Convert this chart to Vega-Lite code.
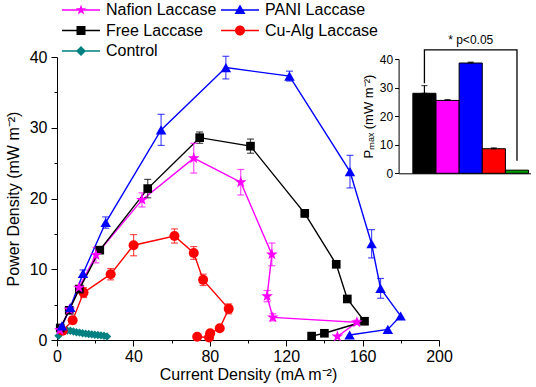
{
  "$schema": "https://vega.github.io/schema/vega-lite/v6.json",
  "width": 382,
  "height": 283,
  "autosize": {"type": "none"},
  "padding": {"left": 57, "top": 57, "right": 97, "bottom": 47},
  "config": {
    "view": {"stroke": null},
    "font": "Liberation Sans",
    "axis": {"domainColor": "black", "tickColor": "black", "labelColor": "black", "titleColor": "black", "grid": false, "titleFontWeight": "normal", "labelFont": "Liberation Sans", "titleFont": "Liberation Sans"}
  },
  "datasets": {
    "curves": [
      {"s": "Nafion Laccase", "i": 1, "x": 1.5, "y": 1.4, "err": 0},
      {"s": "Nafion Laccase", "i": 2, "x": 6.5, "y": 4.3, "err": 0},
      {"s": "Nafion Laccase", "i": 3, "x": 11.5, "y": 7.4, "err": 0},
      {"s": "Nafion Laccase", "i": 4, "x": 20.4, "y": 12.0, "err": 1.1},
      {"s": "Nafion Laccase", "i": 5, "x": 44.5, "y": 19.8, "err": 1.0},
      {"s": "Nafion Laccase", "i": 6, "x": 71.6, "y": 25.7, "err": 2.1},
      {"s": "Nafion Laccase", "i": 7, "x": 96.2, "y": 22.3, "err": 1.8},
      {"s": "Nafion Laccase", "i": 8, "x": 112.5, "y": 12.1, "err": 1.6},
      {"s": "Nafion Laccase", "i": 9, "x": 110.0, "y": 6.2, "err": 0.8},
      {"s": "Nafion Laccase", "i": 10, "x": 113.0, "y": 3.2, "err": 0.5},
      {"s": "Nafion Laccase", "i": 11, "x": 157.0, "y": 2.5, "err": 0.3},
      {"s": "Nafion Laccase", "i": 12, "x": 146.8, "y": 0.5, "err": 0},
      {"s": "PANI Laccase", "i": 1, "x": 2.6, "y": 2.0, "err": 0},
      {"s": "PANI Laccase", "i": 2, "x": 7.0, "y": 4.6, "err": 0},
      {"s": "PANI Laccase", "i": 3, "x": 13.6, "y": 9.4, "err": 0.5},
      {"s": "PANI Laccase", "i": 4, "x": 25.5, "y": 16.6, "err": 0.8},
      {"s": "PANI Laccase", "i": 5, "x": 54.5, "y": 29.7, "err": 2.2},
      {"s": "PANI Laccase", "i": 6, "x": 88.4, "y": 38.5, "err": 1.6},
      {"s": "PANI Laccase", "i": 7, "x": 121.7, "y": 37.3, "err": 0.7},
      {"s": "PANI Laccase", "i": 8, "x": 153.4, "y": 23.8, "err": 2.3},
      {"s": "PANI Laccase", "i": 9, "x": 164.7, "y": 13.6, "err": 2.0},
      {"s": "PANI Laccase", "i": 10, "x": 169.4, "y": 7.3, "err": 1.4},
      {"s": "PANI Laccase", "i": 11, "x": 179.9, "y": 3.4, "err": 0},
      {"s": "PANI Laccase", "i": 12, "x": 173.2, "y": 1.5, "err": 0},
      {"s": "PANI Laccase", "i": 13, "x": 153.2, "y": 0.7, "err": 0},
      {"s": "Free Laccase", "i": 1, "x": 1.7, "y": 1.7, "err": 0},
      {"s": "Free Laccase", "i": 2, "x": 6.4, "y": 4.2, "err": 0},
      {"s": "Free Laccase", "i": 3, "x": 11.7, "y": 7.2, "err": 0},
      {"s": "Free Laccase", "i": 4, "x": 22.4, "y": 12.7, "err": 0.3},
      {"s": "Free Laccase", "i": 5, "x": 47.5, "y": 21.4, "err": 1.3},
      {"s": "Free Laccase", "i": 6, "x": 74.7, "y": 28.6, "err": 0.8},
      {"s": "Free Laccase", "i": 7, "x": 101.3, "y": 27.4, "err": 1.0},
      {"s": "Free Laccase", "i": 8, "x": 129.7, "y": 17.9, "err": 0.5},
      {"s": "Free Laccase", "i": 9, "x": 146.2, "y": 10.7, "err": 0},
      {"s": "Free Laccase", "i": 10, "x": 152.0, "y": 5.8, "err": 0},
      {"s": "Free Laccase", "i": 11, "x": 161.0, "y": 2.65, "err": 0},
      {"s": "Free Laccase", "i": 12, "x": 140.0, "y": 0.95, "err": 0},
      {"s": "Free Laccase", "i": 13, "x": 133.3, "y": 0.55, "err": 0},
      {"s": "Cu-Alg Laccase", "i": 1, "x": 3.0, "y": 1.3, "err": 0},
      {"s": "Cu-Alg Laccase", "i": 2, "x": 8.2, "y": 2.8, "err": 0.5},
      {"s": "Cu-Alg Laccase", "i": 3, "x": 13.9, "y": 6.7, "err": 0.7},
      {"s": "Cu-Alg Laccase", "i": 4, "x": 28.1, "y": 9.3, "err": 0.8},
      {"s": "Cu-Alg Laccase", "i": 5, "x": 40.1, "y": 13.4, "err": 1.5},
      {"s": "Cu-Alg Laccase", "i": 6, "x": 61.5, "y": 14.7, "err": 1.0},
      {"s": "Cu-Alg Laccase", "i": 7, "x": 71.6, "y": 12.3, "err": 0.9},
      {"s": "Cu-Alg Laccase", "i": 8, "x": 76.5, "y": 8.5, "err": 0.8},
      {"s": "Cu-Alg Laccase", "i": 9, "x": 89.9, "y": 4.4, "err": 0.7},
      {"s": "Cu-Alg Laccase", "i": 10, "x": 85.2, "y": 1.65, "err": 0},
      {"s": "Cu-Alg Laccase", "i": 11, "x": 80.2, "y": 0.95, "err": 0},
      {"s": "Cu-Alg Laccase", "i": 12, "x": 79.6, "y": 0.35, "err": 0},
      {"s": "Cu-Alg Laccase", "i": 13, "x": 73.4, "y": 0.45, "err": 0},
      {"s": "Control", "i": 1, "x": 0.8, "y": 0.6, "err": 0},
      {"s": "Control", "i": 2, "x": 2.2, "y": 1.3, "err": 0},
      {"s": "Control", "i": 3, "x": 3.8, "y": 1.4, "err": 0},
      {"s": "Control", "i": 4, "x": 5.4, "y": 1.35, "err": 0},
      {"s": "Control", "i": 5, "x": 7.0, "y": 1.3, "err": 0},
      {"s": "Control", "i": 6, "x": 8.6, "y": 1.2, "err": 0},
      {"s": "Control", "i": 7, "x": 10.2, "y": 1.1, "err": 0},
      {"s": "Control", "i": 8, "x": 11.8, "y": 1.05, "err": 0},
      {"s": "Control", "i": 9, "x": 13.4, "y": 0.95, "err": 0},
      {"s": "Control", "i": 10, "x": 15.0, "y": 0.9, "err": 0},
      {"s": "Control", "i": 11, "x": 16.6, "y": 0.85, "err": 0},
      {"s": "Control", "i": 12, "x": 18.2, "y": 0.8, "err": 0},
      {"s": "Control", "i": 13, "x": 19.8, "y": 0.75, "err": 0},
      {"s": "Control", "i": 14, "x": 21.4, "y": 0.7, "err": 0},
      {"s": "Control", "i": 15, "x": 23.0, "y": 0.65, "err": 0},
      {"s": "Control", "i": 16, "x": 24.6, "y": 0.6, "err": 0},
      {"s": "Control", "i": 17, "x": 26.2, "y": 0.5, "err": 0}
    ],
    "bars": [
      {"cat": "Free Laccase", "val": 28.0, "hi": 30.7},
      {"cat": "Nafion Laccase", "val": 25.5, "hi": 25.8},
      {"cat": "PANI Laccase", "val": 38.6, "hi": 38.9},
      {"cat": "Cu-Alg Laccase", "val": 8.6, "hi": 8.9},
      {"cat": "Control", "val": 1.1, "hi": 1.1}
    ],
    "bracket": [
      {"cat": "Free Laccase", "v": 31.5, "k": 1},
      {"cat": "Free Laccase", "v": 43.2, "k": 2},
      {"cat": "Control", "v": 43.2, "k": 3},
      {"cat": "Control", "v": 4.4, "k": 4}
    ],
    "note": [
      {"cat": "PANI Laccase", "v": 44.0, "t": "* p<0.05"}
    ]
  },
  "layer": [
    {
      "data": {"name": "curves"},
      "encoding": {
        "x": {"field": "x", "type": "quantitative", "scale": {"domain": [0, 200], "nice": false},
          "axis": {"values": [0, 20, 40, 60, 80, 100, 120, 140, 160, 180, 200], "labelExpr": "datum.value % 40 === 0 ? datum.label : ''",
            "tickSize": {"condition": {"test": "datum.value % 40 === 0", "value": 6}, "value": 3},
            "labelFontSize": 16, "labelPadding": 2, "titleFontSize": 16, "titlePadding": 2, "labelFlush": false},
          "title": "Current Density (mA m⁻²)"},
        "y": {"field": "y", "type": "quantitative", "scale": {"domain": [0, 40], "nice": false},
          "axis": {"values": [0, 5, 10, 15, 20, 25, 30, 35, 40], "labelExpr": "datum.value % 10 === 0 ? datum.label : ''",
            "tickSize": {"condition": {"test": "datum.value % 10 === 0", "value": 6}, "value": 3},
            "labelFontSize": 16, "labelPadding": 4, "titleFontSize": 16, "titlePadding": 8, "labelFlush": false},
          "title": "Power Density (mW m⁻²)"},
        "color": {"field": "s", "type": "nominal",
          "scale": {"domain": ["Nafion Laccase", "PANI Laccase", "Free Laccase", "Cu-Alg Laccase", "Control"], "range": ["#FF00FF", "#0000FF", "#000000", "#FF0000", "#008080"]},
          "legend": {"orient": "none", "legendX": 5, "legendY": -57, "columns": 2, "direction": "horizontal", "title": null, "padding": 0, "offset": 0,
            "labelFontSize": 16, "labelFont": "Liberation Sans", "labelColor": "black", "symbolSize": 400, "labelOffset": 24, "columnPadding": 4, "rowPadding": 2.5, "symbolStrokeWidth": 0,
            "encode": {"symbols": {"update": {
              "shape": {"signal": "datum.value === 'Nafion Laccase' ? 'M-1,-0.08H2.8V0.08H-1ZM0.9,-0.55L1.029,-0.178L1.423,-0.17L1.109,0.068L1.223,0.445L0.9,0.22L0.577,0.445L0.691,0.068L0.377,-0.17L0.771,-0.178Z' : datum.value === 'PANI Laccase' ? 'M-1,-0.08H2.8V0.08H-1ZM0.9,-0.55L1.45,0.4H0.35Z' : datum.value === 'Free Laccase' ? 'M-1,-0.08H2.8V0.08H-1ZM0.45,-0.45H1.35V0.45H0.45Z' : datum.value === 'Cu-Alg Laccase' ? 'M-1,-0.08H2.8V0.08H-1ZM1.4,0A0.5,0.5,0,1,1,0.4,0A0.5,0.5,0,1,1,1.4,0Z' : 'M-1,-0.08H2.8V0.08H-1ZM0.9,-0.5L1.4,0L0.9,0.5L0.4,0Z'"},
              "fill": {"scale": "color", "field": "value"},
              "stroke": {"value": "transparent"},
              "opacity": {"value": 1},
              "size": {"value": 400}
            }}}}
        }
      },
      "layer": [
        {
          "mark": {"type": "line", "strokeWidth": 1.4},
          "encoding": {"order": {"field": "i", "type": "quantitative"}}
        },
        {
          "transform": [{"filter": "datum.err > 0"}],
          "mark": {"type": "errorbar", "ticks": {"size": 7}, "thickness": 1.2, "opacity": 0.7},
          "encoding": {"yError": {"field": "err"}}
        },
        {
          "transform": [{"filter": "datum.s === 'Control'"}],
          "mark": {"type": "point", "filled": true, "opacity": 1, "shape": "diamond", "size": 70}
        },
        {
          "transform": [{"filter": "datum.s === 'Cu-Alg Laccase'"}],
          "mark": {"type": "point", "filled": true, "opacity": 1, "shape": "circle", "size": 100}
        },
        {
          "transform": [{"filter": "datum.s === 'Free Laccase'"}],
          "mark": {"type": "point", "filled": true, "opacity": 1, "shape": "square", "size": 75}
        },
        {
          "transform": [{"filter": "datum.s === 'Nafion Laccase'"}],
          "mark": {"type": "point", "filled": true, "opacity": 1, "size": 150, "shape": "M0,-1L0.235,-0.324L0.951,-0.309L0.38,0.124L0.588,0.809L0,0.4L-0.588,0.809L-0.38,0.124L-0.951,-0.309L-0.235,-0.324Z"}
        },
        {
          "transform": [{"filter": "datum.s === 'PANI Laccase'"}],
          "mark": {"type": "point", "filled": true, "opacity": 1, "shape": "triangle-up", "size": 110}
        }
      ]
    },
    {
      "layer": [
        {
          "data": {"name": "bars"},
          "mark": {"type": "bar", "stroke": "black", "strokeWidth": 1},
          "encoding": {
            "x": {"field": "cat", "type": "nominal", "sort": null,
              "scale": {"domain": ["Free Laccase", "Nafion Laccase", "PANI Laccase", "Cu-Alg Laccase", "Control"], "range": [341.6, 473.5], "paddingInner": 0, "paddingOuter": 0.35, "align": 0.88},
              "axis": {"orient": "bottom", "offset": -166.7, "labels": false, "ticks": false, "title": null, "domain": true}},
            "y": {"field": "val", "type": "quantitative", "scale": {"domain": [0, 40], "nice": false, "range": [116.3, 2]},
              "title": "Pₘₐₓ (mW m⁻²)",
              "axis": {"orient": "left", "offset": -341.6, "values": [0, 5, 10, 15, 20, 25, 30, 35, 40], "labelExpr": "datum.value % 10 === 0 ? datum.label : ''",
                "tickSize": {"condition": {"test": "datum.value % 10 === 0", "value": 4}, "value": 2},
                "labelFontSize": 12, "labelPadding": 2, "titleFontSize": 13, "titlePadding": 4, "labelFlush": false}},
            "fill": {"field": "cat", "type": "nominal", "scale": {"domain": ["Free Laccase", "Nafion Laccase", "PANI Laccase", "Cu-Alg Laccase", "Control"], "range": ["#000000", "#FF00FF", "#0000FF", "#FF0000", "#009900"]}, "legend": null}
          }
        },
        {
          "data": {"name": "bars"},
          "transform": [{"filter": "datum.hi > datum.val"}],
          "mark": {"type": "errorbar", "ticks": {"size": 6}, "thickness": 1.2, "color": "black"},
          "encoding": {
            "x": {"field": "cat", "type": "nominal", "title": null},
            "y": {"field": "val", "type": "quantitative", "title": "Pₘₐₓ (mW m⁻²)"},
            "y2": {"field": "hi"}
          }
        },
        {
          "data": {"name": "bracket"},
          "mark": {"type": "line", "color": "black", "strokeWidth": 1.3},
          "encoding": {
            "x": {"field": "cat", "type": "nominal", "title": null},
            "y": {"field": "v", "type": "quantitative", "title": "Pₘₐₓ (mW m⁻²)"},
            "order": {"field": "k", "type": "quantitative"}
          }
        },
        {
          "data": {"name": "note"},
          "mark": {"type": "text", "baseline": "bottom", "fontSize": 12, "color": "black", "dy": -1},
          "encoding": {
            "x": {"field": "cat", "type": "nominal", "title": null},
            "y": {"field": "v", "type": "quantitative", "title": "Pₘₐₓ (mW m⁻²)"},
            "text": {"field": "t"}
          }
        }
      ]
    }
  ],
  "resolve": {"scale": {"x": "independent", "y": "independent"}, "axis": {"x": "independent", "y": "independent"}}
}
